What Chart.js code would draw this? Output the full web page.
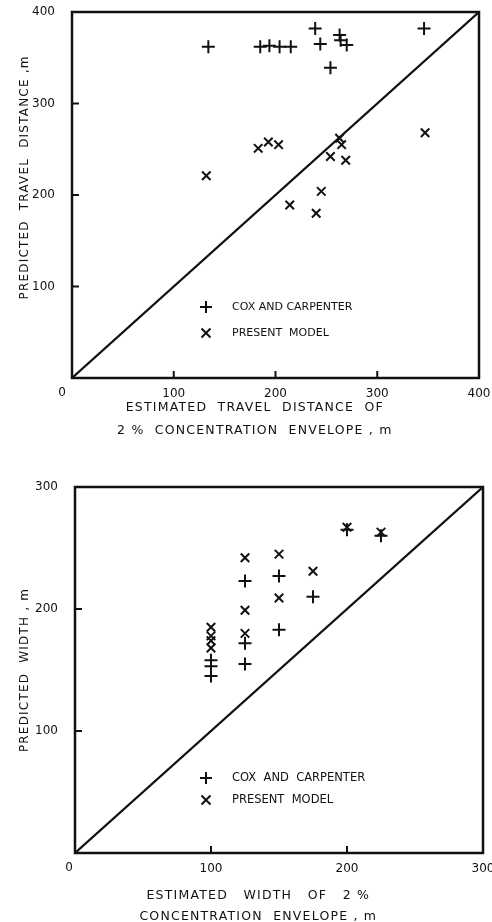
<!DOCTYPE html>
<html>
<head>
<meta charset="utf-8">
<script src="https://cdn.jsdelivr.net/npm/chart.js@4.4.1/dist/chart.umd.min.js"></script>
<style>
  html, body { margin: 0; padding: 0; background: #fff; overflow: hidden; }
  .wrap { position: absolute; left: 0; width: 492px; }
  #top-wrap { top: 0; height: 460px; }
  #bottom-wrap { top: 460px; height: 467px; }
</style>
</head>
<body>
<div class="wrap" id="top-wrap"><canvas id="travel-chart"></canvas></div>
<div class="wrap" id="bottom-wrap"><canvas id="width-chart"></canvas></div>
<script>
// travel distance: estimated (x) vs predicted (y), metres
var travelTicks = [0, 100, 200, 300, 400];
var travelCoxX = [134, 185, 194, 204, 215, 239, 244, 263, 264, 270, 254, 346];
var travelCoxY = [362, 362, 363, 362, 362, 382, 365, 375, 369, 364, 339, 382];
var travelModelX = [132, 183, 193, 203, 263, 265, 254, 269, 245, 214, 240, 347];
var travelModelY = [221, 251, 258, 255, 262, 255, 242, 238, 204, 189, 180, 268];

// plume width: estimated (x) vs predicted (y), metres
var widthTicks = [0, 100, 200, 300];
var widthCoxX = [100, 100, 100, 125, 125, 125, 150, 150, 175, 200, 225];
var widthCoxY = [145, 153, 158, 155, 172, 223, 183, 227, 210, 265, 260];
var widthModelX = [100, 100, 100, 100, 125, 125, 125, 150, 150, 175, 200, 225];
var widthModelY = [185, 178, 174, 168, 242, 199, 180, 245, 209, 231, 267, 263];

var FONT = 'DejaVu Sans';
var INK = '#111';

function points(xs, ys) {
  var out = [];
  for (var i = 0; i < xs.length; i++) out.push({ x: xs[i], y: ys[i] });
  return out;
}

// wide spacing for the axis titles only; tick labels sit on a later
// layer (ticks.z = 1) and are drawn after the spacing is switched off
var spacingPlugin = {
  id: 'spacing',
  beforeDraw: function(chart) { chart.ctx.letterSpacing = '1.2px'; },
  afterDatasetsDraw: function(chart) { chart.ctx.letterSpacing = '0px'; }
};

// frame, inward tick marks, the shared "0" and the legend
var framePlugin = {
  id: 'frame',
  afterDatasetsDraw: function(chart, args, opts) {
    var ctx = chart.ctx;
    var a = chart.chartArea;
    var xs = chart.scales.x, ys = chart.scales.y;
    ctx.save();
    ctx.strokeStyle = INK;
    ctx.lineWidth = 2.5;
    ctx.strokeRect(a.left, a.top, a.right - a.left, a.bottom - a.top);
    ctx.lineWidth = 2;
    opts.ticks.forEach(function(v) {
      if (v === 0 || v === opts.ticks[opts.ticks.length - 1]) return;
      var px = xs.getPixelForValue(v);
      ctx.beginPath(); ctx.moveTo(px, a.bottom); ctx.lineTo(px, a.bottom - 7); ctx.stroke();
      var py = ys.getPixelForValue(v);
      ctx.beginPath(); ctx.moveTo(a.left, py); ctx.lineTo(a.left + 7, py); ctx.stroke();
    });
    ctx.fillStyle = INK;
    ctx.textAlign = 'center';
    ctx.textBaseline = 'middle';
    ctx.font = '12px "' + FONT + '"';
    ctx.fillText('0', xs.getPixelForValue(0) + opts.zeroShift, a.bottom + 15);
    // legend rows
    ctx.textAlign = 'left';
    ctx.font = opts.legendFont + 'px "' + FONT + '"';
    opts.legend.forEach(function(row) {
      var lx = row.x, ly = row.y;
      ctx.beginPath();
      if (row.cross) {
        ctx.moveTo(lx - 6, ly); ctx.lineTo(lx + 6, ly);
        ctx.moveTo(lx, ly - 6); ctx.lineTo(lx, ly + 6);
      } else {
        ctx.moveTo(lx - 4.5, ly - 4.5); ctx.lineTo(lx + 4.5, ly + 4.5);
        ctx.moveTo(lx + 4.5, ly - 4.5); ctx.lineTo(lx - 4.5, ly + 4.5);
      }
      ctx.stroke();
      ctx.fillText(row.text, lx + 26, ly);
    });
    ctx.restore();
  }
};

function makeChart(canvasId, cfg) {
  var maxV = cfg.ticks[cfg.ticks.length - 1];
  return new Chart(document.getElementById(canvasId), {
    type: 'scatter',
    data: {
      datasets: [{
        type: 'line',
        data: [{ x: 0, y: 0 }, { x: maxV, y: maxV }],
        borderColor: INK,
        borderWidth: 2.2,
        pointRadius: 0
      }, {
        label: 'COX AND CARPENTER',
        data: points(cfg.coxX, cfg.coxY),
        pointStyle: 'cross',
        pointRadius: 6.5,
        borderColor: INK,
        borderWidth: 2
      }, {
        label: 'PRESENT MODEL',
        data: points(cfg.modelX, cfg.modelY),
        pointStyle: 'crossRot',
        pointRadius: 6,
        borderColor: INK,
        borderWidth: 2
      }]
    },
    options: {
      responsive: true,
      maintainAspectRatio: false,
      animation: false,
      layout: { padding: cfg.padding },
      plugins: {
        legend: { display: false },
        tooltip: { enabled: false },
        frame: { ticks: cfg.ticks, legend: cfg.legend, legendFont: cfg.legendFont, zeroShift: cfg.zeroShift }
      },
      scales: {
        x: {
          type: 'linear',
          min: 0, max: maxV,
          grid: { display: false },
          border: { display: false },
          afterBuildTicks: function(s) { s.ticks = cfg.ticks.map(function(v) { return { value: v }; }); },
          ticks: {
            z: 1,
            color: INK, font: { family: FONT, size: 12 }, padding: 1, maxRotation: 0,
            callback: function(v) { return v === 0 ? '' : v; }
          },
          title: {
            display: true,
            // trailing blanks nudge the centred block a little to the left
            text: cfg.xTitle.map(function(t) { return t + '        '; }),
            color: INK,
            font: { family: FONT, size: 12.5, lineHeight: cfg.xTitleLH },
            padding: { top: 0, bottom: 0 }
          },
          afterFit: function(s) {
            s.height = cfg.xHeight;
            s.paddingLeft = 0;
            s.paddingRight = 0;
          }
        },
        y: {
          type: 'linear',
          min: 0, max: maxV,
          grid: { display: false },
          border: { display: false },
          afterBuildTicks: function(s) { s.ticks = cfg.ticks.map(function(v) { return { value: v }; }); },
          ticks: {
            z: 1,
            color: INK, font: { family: FONT, size: 12 }, padding: 9,
            callback: function(v) { return v === 0 ? '' : v; }
          },
          title: {
            display: true,
            text: cfg.yTitle,
            color: INK,
            font: { family: FONT, size: 12 },
            padding: { top: 18, bottom: 0 }
          },
          afterFit: function(s) {
            s.width = cfg.yWidth;
            s.paddingTop = 0;
            s.paddingBottom = 0;
          }
        }
      }
    },
    plugins: [spacingPlugin, framePlugin]
  });
}

makeChart('travel-chart', {
  ticks: travelTicks,
  coxX: travelCoxX, coxY: travelCoxY,
  modelX: travelModelX, modelY: travelModelY,
  xTitle: ['ESTIMATED  TRAVEL  DISTANCE  OF', '2 %  CONCENTRATION  ENVELOPE , m'],
  xTitleLH: 1.9,
  // leading blanks lift the rotated title a little
  yTitle: '       PREDICTED  TRAVEL  DISTANCE ,m',
  padding: { top: 12, right: 13, left: 0, bottom: 17 },
  xHeight: 65,
  yWidth: 72,
  zeroShift: -10,
  legendFont: 11,
  legend: [
    { x: 206, y: 307, cross: true, text: 'COX AND CARPENTER' },
    { x: 206, y: 333, cross: false, text: 'PRESENT  MODEL' }
  ]
});

makeChart('width-chart', {
  ticks: widthTicks,
  coxX: widthCoxX, coxY: widthCoxY,
  modelX: widthModelX, modelY: widthModelY,
  xTitle: ['ESTIMATED   WIDTH   OF   2 %', 'CONCENTRATION  ENVELOPE , m'],
  xTitleLH: 1.68,
  yTitle: 'PREDICTED  WIDTH , m',
  padding: { top: 27, right: 9, left: 0, bottom: 0 },
  xHeight: 74,
  yWidth: 75,
  zeroShift: -6,
  legendFont: 11.5,
  legend: [
    { x: 206, y: 318, cross: true, text: 'COX  AND  CARPENTER' },
    { x: 206, y: 340, cross: false, text: 'PRESENT  MODEL' }
  ]
});
</script>
</body>
</html>
